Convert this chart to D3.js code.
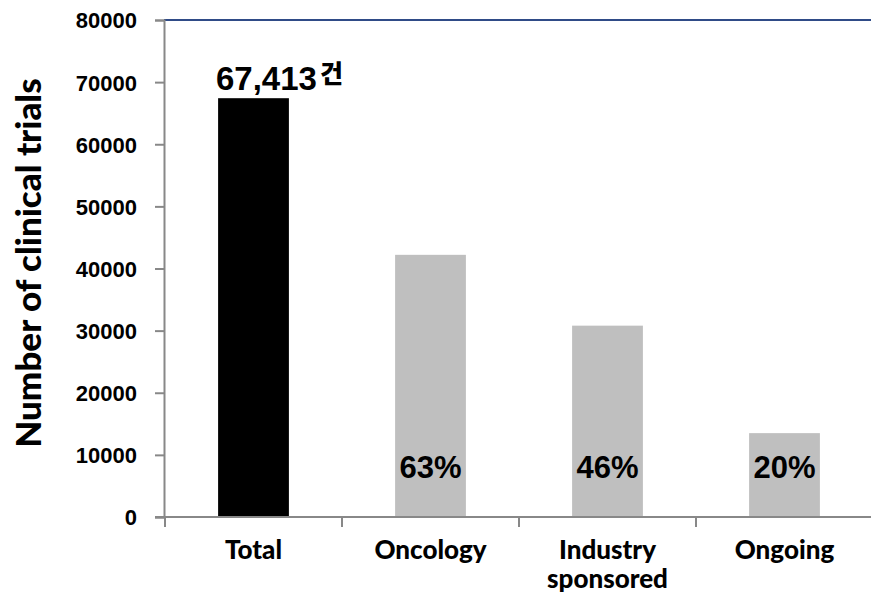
<!DOCTYPE html>
<html>
<head>
<meta charset="utf-8">
<script src="https://cdn.jsdelivr.net/npm/d3@7"></script>
<style>
  body { margin: 0; background: #fff; }
</style>
</head>
<body>
<div id="chart"></div>
<script>
// data
var categories = ["Total", "Oncology", "Industry|sponsored", "Ongoing"];
var counts = [67413, 42200, 30800, 13500];
var pctLabels = ["", "63%", "46%", "20%"];
var topNumber = "67,413";
var topUnit = "건";
var yTicks = [0, 10000, 20000, 30000, 40000, 50000, 60000, 70000, 80000];

var W = 871, H = 594;
var margin = { left: 164, right: 0, top: 20, bottom: 77 };

var svg = d3.select("#chart").append("svg")
    .attr("width", W)
    .attr("height", H);

var x = d3.scaleBand()
    .domain(categories)
    .range([165, 873])
    .paddingInner(0.6)
    .paddingOuter(0.3);

var y = d3.scaleLinear()
    .domain([0, 80000])
    .range([H - margin.bottom, margin.top]);

// top frame line
svg.append("line")
    .attr("x1", margin.left).attr("x2", W)
    .attr("y1", y(80000)).attr("y2", y(80000))
    .attr("stroke", "#2f4b87").attr("stroke-width", 2);

// bars
svg.selectAll("rect.bar")
    .data(counts)
    .enter().append("rect")
    .attr("class", "bar")
    .attr("x", function (d, i) { return x(categories[i]); })
    .attr("width", x.bandwidth())
    .attr("y", function (d) { return y(d); })
    .attr("height", function (d) { return y(0) - y(d); })
    .attr("fill", function (d, i) { return i == 0 ? "#000000" : "#bfbfbf"; });

// y axis
var yAxis = d3.axisLeft(y).tickValues(yTicks).tickFormat(d3.format("d")).tickSize(9).tickPadding(18);
var gy = svg.append("g")
    .attr("transform", "translate(" + margin.left + ",0)")
    .call(yAxis);
gy.attr("font-size", null).attr("font-family", null);
gy.select(".domain").attr("stroke", "#888").attr("stroke-width", 2);
gy.selectAll(".tick line").attr("stroke", "#888").attr("stroke-width", 2);
gy.selectAll(".tick text")
    .attr("font-family", "Liberation Sans, Arial, sans-serif")
    .attr("font-weight", "bold")
    .attr("font-size", 22)
    .attr("dy", "0.36em")
    .attr("fill", "#000");

// x axis
var gx = svg.append("g")
    .attr("transform", "translate(0," + y(0) + ")");
gx.append("line")
    .attr("x1", 155).attr("x2", W)
    .attr("stroke", "#888").attr("stroke-width", 2);
var step = x.step();
gx.selectAll("line.cat")
    .data(categories)
    .enter().append("line")
    .attr("class", "cat")
    .attr("x1", function (d) { return x(d) + x.bandwidth() / 2 - step / 2; })
    .attr("x2", function (d) { return x(d) + x.bandwidth() / 2 - step / 2; })
    .attr("y1", 0).attr("y2", 10)
    .attr("stroke", "#888").attr("stroke-width", 2);

var xl = gx.selectAll("text.cat")
    .data(categories)
    .enter().append("text")
    .attr("class", "cat")
    .attr("x", function (d) { return x(d) + x.bandwidth() / 2; })
    .attr("y", 42)
    .attr("text-anchor", "middle")
    .attr("font-family", "Lato, sans-serif")
    .attr("font-weight", 900)
    .attr("font-size", 26);
xl.each(function (d) {
    var parts = d.split("|");
    var t = d3.select(this);
    parts.forEach(function (p, k) {
        t.append("tspan")
            .attr("x", x(d) + x.bandwidth() / 2)
            .attr("dy", k == 0 ? 0 : 29)
            .text(p);
    });
});

// percentage labels inside bars
svg.selectAll("text.pct")
    .data(pctLabels)
    .enter().append("text")
    .attr("class", "pct")
    .attr("x", function (d, i) { return x(categories[i]) + x.bandwidth() / 2; })
    .attr("y", 478)
    .attr("text-anchor", "middle")
    .attr("font-family", "Liberation Sans, Arial, sans-serif")
    .attr("font-weight", "bold")
    .attr("font-size", 31)
    .text(function (d) { return d; });

// total label
var tl = svg.append("text")
    .attr("x", 216)
    .attr("y", 90)
    .attr("font-family", "Liberation Sans, Arial, sans-serif")
    .attr("font-weight", "bold")
    .attr("font-size", 33);
tl.append("tspan").text(topNumber);
tl.append("tspan")
    .attr("dx", 3)
    .attr("dy", -7)
    .attr("font-family", "'Noto Sans CJK KR', sans-serif")
    .attr("font-size", 25)
    .attr("font-weight", 900)
    .text(topUnit);

// y axis title
svg.append("text")
    .attr("transform", "translate(41," + 263 + ") rotate(-90)")
    .attr("text-anchor", "middle")
    .attr("font-family", "Lato, sans-serif")
    .attr("font-weight", 900)
    .attr("font-size", 35)
    .text("Number of clinical trials");
</script>
</body>
</html>
